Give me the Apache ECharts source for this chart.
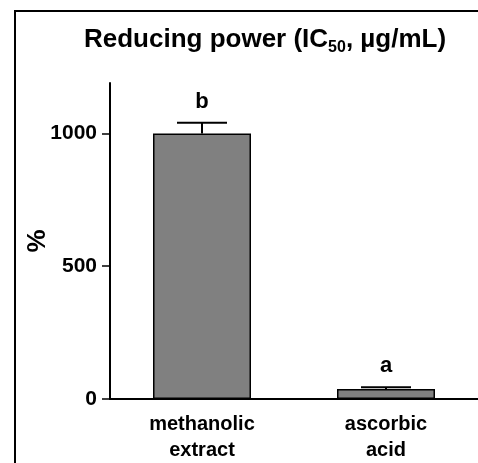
<!DOCTYPE html>
<html>
<head>
<meta charset="utf-8">
<script src="https://cdn.jsdelivr.net/npm/echarts@6/dist/echarts.min.js"></script>
<style>
  html, body { margin: 0; padding: 0; background: #fff; }
  #chart { width: 478px; height: 463px; }
</style>
</head>
<body>
<div id="chart"></div>
<script>
!function () {
    // data
    const categories = ['methanolic\nextract', 'ascorbic\nacid'];
    const values = [1000, 38];
    const errors = [40, 6];
    const letters = ['b', 'a'];
    const yTicks = [0, 500, 1000];

    const font = '"Liberation Sans", Arial, sans-serif';

    const option = {
        animation: false,
        backgroundColor: '#fff',
        title: {
            text: '{n|Reducing power (IC}{s|50}{n|, µg/mL)}',
            left: 79,
            top: 19,
            textStyle: {
                rich: {
                    n: { fontFamily: font, fontWeight: 'bold', fontSize: 26, color: '#000', lineHeight: 32 },
                    s: { fontFamily: font, fontWeight: 'bold', fontSize: 16, color: '#000', lineHeight: 14, verticalAlign: 'bottom' }
                }
            }
        },
        graphic: [{
            type: 'rect',
            shape: { x: 15, y: 11, width: 520, height: 520 },
            style: { fill: 'none', stroke: '#000', lineWidth: 2 },
            silent: true
        }],
        grid: { left: 110, top: 83, width: 374, height: 317 },
        xAxis: {
            type: 'category',
            data: categories,
            axisLine: { lineStyle: { color: '#000', width: 2 } },
            axisTick: { show: false },
            axisLabel: {
                color: '#000', fontFamily: font, fontWeight: 'bold',
                fontSize: 20, lineHeight: 26, margin: 12
            }
        },
        yAxis: {
            type: 'value',
            min: 0,
            max: 1190,
            name: '%',
            nameLocation: 'middle',
            nameGap: 59,
            nameRotate: 90,
            nameMoveOverlap: false,
            nameTextStyle: { color: '#000', fontFamily: font, fontWeight: 'bold', fontSize: 26 },
            axisLine: { show: true, lineStyle: { color: '#000', width: 2 } },
            axisTick: { show: true, length: 8, customValues: yTicks, lineStyle: { color: '#000', width: 1.5 } },
            axisLabel: {
                customValues: yTicks,
                formatter: function (v) { return String(v); },
                color: '#000', fontFamily: font, fontWeight: 'bold', fontSize: 21, margin: 13
            },
            splitLine: { show: false }
        },
        series: [
            {
                type: 'bar',
                data: values,
                barWidth: 98,
                itemStyle: { color: '#808080', borderColor: '#000', borderWidth: 1.5 }
            },
            {
                type: 'custom',
                data: values.map(function (v, i) { return [i, v, errors[i]]; }),
                renderItem: function (params, api) {
                    const i = api.value(0);
                    const v = api.value(1);
                    const e = api.value(2);
                    const base = api.coord([i, v]);
                    const top = api.coord([i, v + e]);
                    const half = 25;
                    return {
                        type: 'group',
                        children: [
                            { type: 'line', shape: { x1: base[0], y1: base[1], x2: top[0], y2: top[1] },
                              style: { stroke: '#000', lineWidth: 2 } },
                            { type: 'line', shape: { x1: top[0] - half, y1: top[1], x2: top[0] + half, y2: top[1] },
                              style: { stroke: '#000', lineWidth: 2 } },
                            { type: 'text', x: top[0], y: top[1] - 10,
                              style: { text: letters[params.dataIndex], fill: '#000', font: 'bold 22px ' + font,
                                       textAlign: 'center', textVerticalAlign: 'bottom' } }
                        ]
                    };
                },
                z: 3
            }
        ]
    };

    const myChart = echarts.init(document.getElementById('chart'));
    myChart && myChart.setOption(option);
}()
</script>
</body>
</html>
